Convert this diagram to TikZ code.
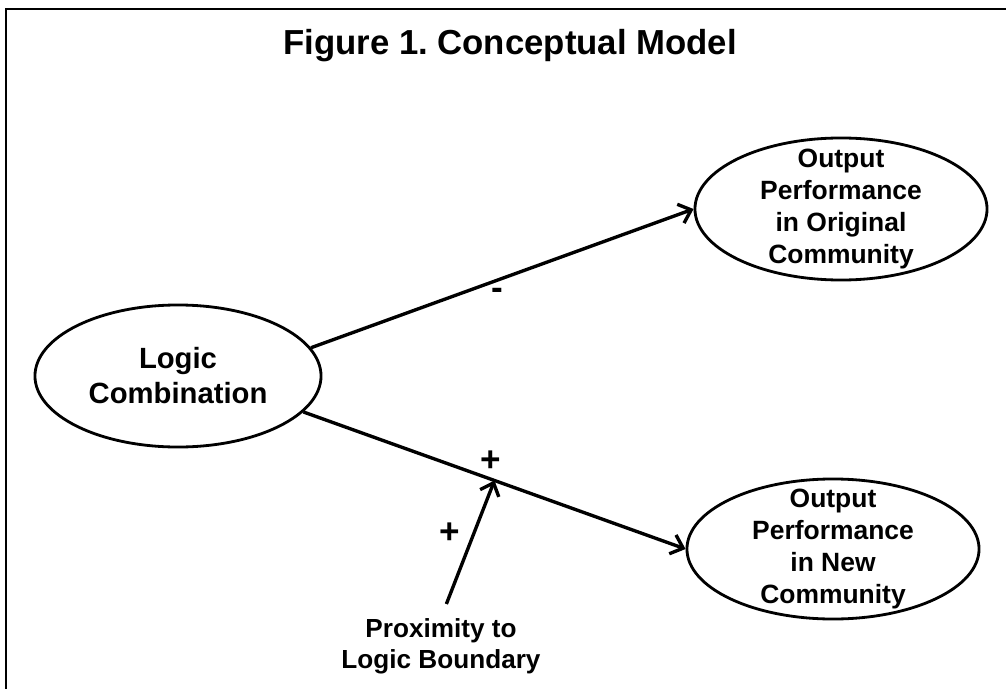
\documentclass[tikz,border=0pt]{standalone}
\usepackage{fontspec}
\setmainfont{Liberation Sans}
\usetikzlibrary{shapes.geometric,arrows.meta,positioning}
\frenchspacing

\begin{document}
\begin{tikzpicture}[x=0.025cm,y=-0.025cm,
    bub/.style={ellipse,draw,line width=2pt,inner sep=0pt,minimum width=7.3cm,minimum height=3.55cm},
    txt/.style={font=\bfseries\fontsize{18.8}{22.8}\selectfont,align=center,inner sep=0pt},
    sign/.style={font=\bfseries\fontsize{25}{28}\selectfont,inner sep=0pt},
    arr/.style={line width=2.4pt,-{Straight Barb[length=2.8mm,width=5mm]}}]
  \useasboundingbox (0,0) rectangle (1006,689);
  \draw[line width=1.6pt] (6,689) -- (6,9) -- (1006,9);
  \node[anchor=base,font=\bfseries\fontsize{24.7}{28}\selectfont] (t) at (510,55) {Figure 1. Conceptual Model};
  \node[bub,minimum width=7.15cm] (lc) at (178,376) {};
  \node[txt,font=\bfseries\fontsize{20.8}{24.9}\selectfont] at (lc) {Logic\\Combination};
  \node[bub] (oo) at (841,209) {};
  \node[txt] at (oo) {Output\\Performance\\in Original\\Community};
  \node[bub,minimum height=3.5cm] (on) at (833,549) {};
  \node[txt] at (on) {Output\\Performance\\in New\\Community};
  \node[txt,font=\bfseries\fontsize{18.6}{22.3}\selectfont] (pr) at (441,646) {Proximity to\\Logic Boundary};
  \draw[arr] (lc.12) -- (oo.west);
  \draw[arr] (lc.-16) -- coordinate[pos=0.5] (m) (on.west);
  \draw[arr,shorten <=0.37cm] (pr.north) -- (m);
  \node[sign] (mi) at (497,294) {-};
  \node[sign] (p1) at (491,461) {+};
  \node[sign] (p2) at (450,533) {+};
\end{tikzpicture}
\end{document}
